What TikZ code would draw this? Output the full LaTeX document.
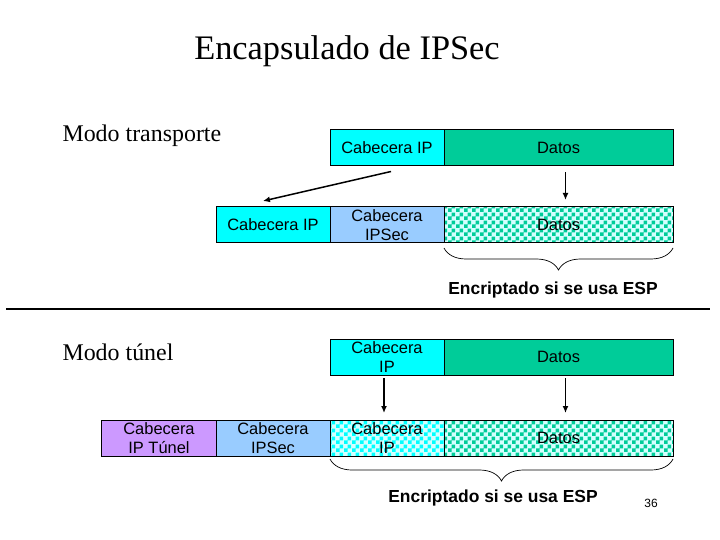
\documentclass[tikz,border=0pt]{standalone}
\usepackage{fontspec}
\setmainfont{Liberation Serif}
\setsansfont{Liberation Sans}
\usetikzlibrary{positioning,arrows.meta,patterns,decorations.pathreplacing}

\definecolor{cabip}{HTML}{00FFFF}
\definecolor{datos}{HTML}{00CC99}
\definecolor{cabsec}{HTML}{99CCFF}
\definecolor{tunel}{HTML}{CC99FF}
\definecolor{claro}{HTML}{D4FFFF}

% checker pattern with 4bp squares
\pgfdeclarepatternformonly{checker}{\pgfpointorigin}{\pgfqpoint{8bp}{8bp}}{\pgfqpoint{8bp}{8bp}}{%
  \pgfpathrectangle{\pgfpointorigin}{\pgfqpoint{4.05bp}{4.05bp}}%
  \pgfpathrectangle{\pgfqpoint{4bp}{4bp}}{\pgfqpoint{4.05bp}{4.05bp}}%
  \pgfusepath{fill}}

\begin{document}
\begin{tikzpicture}[
        x=1bp, y=-1bp,
        box/.style={draw, line width=1bp, outer sep=0pt, inner sep=0pt,
            minimum width=114bp, minimum height=36bp, align=center,
            font=\fontsize{16.5}{18.5}\selectfont\sffamily},
        wide/.style={box, minimum width=229bp},
        cif/.style={preaction={fill=claro}, pattern=checker, pattern color=#1},
        arr/.style={-{Latex[length=7bp,width=6bp]}, line width=1.5bp},
        llave/.style={decorate, decoration={brace, mirror, amplitude=22bp}, line width=0.7bp},
        modo/.style={font=\fontsize{24}{28}\selectfont, anchor=west},
        nota/.style={font=\fontsize{17.5}{20}\selectfont\sffamily\bfseries}
    ]
    \useasboundingbox (0,0) rectangle (720,540);

    \node[font=\fontsize{34.5}{40}\selectfont] (titulo) at (347,51) {Encapsulado de IPSec};

    % ---- MODO TRANSPORTE ----
    \node[modo] (transporte) at (59,136) {Modo transporte};

    \node[box, fill=cabip] (ipA) at (387,147.5) {Cabecera IP};
    \node[wide, fill=datos, right=0pt of ipA] (datosA) {Datos};

    \node[box, fill=cabsec] (secB) at (387,225) {Cabecera\\IPSec};
    \node[box, fill=cabip, left=0pt of secB] (ipB) {Cabecera IP};
    \node[wide, cif=datos, right=0pt of secB] (datosB) {Datos};

    \draw[arr] ([shift={(4,6)}]ipA.south) -- ([shift={(-10,-6)}]ipB.north);
    \draw[arr] ([shift={(7,7)}]datosA.south) -- ([shift={(7,-7)}]datosB.north);

    \draw[llave] ([shift={(0,5)}]datosB.south west) -- ([shift={(0,5)}]datosB.south east);
    \node[nota] (espA) at (553,290) {Encriptado si se usa ESP};

    \draw[line width=1.3bp] (6,309) -- (710,309);

    % ---- MODO TUNEL ----
    \node[modo] (tunelmodo) at (59,352) {Modo túnel};

    \node[box, fill=cabip] (ipC) at (387,357) {Cabecera\\IP};
    \node[wide, fill=datos, right=0pt of ipC] (datosC) {Datos};

    \node[box, cif=cabip] (ipD) at (387,438) {Cabecera\\IP};
    \node[wide, cif=datos, right=0pt of ipD] (datosD) {Datos};
    \node[box, fill=cabsec, left=0pt of ipD] (secD) {Cabecera\\IPSec};
    \node[box, fill=tunel, left=0pt of secD] (tunD) {Cabecera\\IP Túnel};

    \draw[arr] ([shift={(-3,3)}]ipC.south) -- ([shift={(-3,-7)}]ipD.north);
    \draw[arr] ([shift={(7,3)}]datosC.south) -- ([shift={(7,-7)}]datosD.north);

    \draw[llave] ([shift={(0,3)}]ipD.south west) -- ([shift={(0,3)}]datosD.south east);
    \node[nota] (espD) at (493,498) {Encriptado si se usa ESP};

    \node[font=\fontsize{12}{14}\selectfont\sffamily] (pagina) at (651,503) {36};
\end{tikzpicture}
\end{document}
